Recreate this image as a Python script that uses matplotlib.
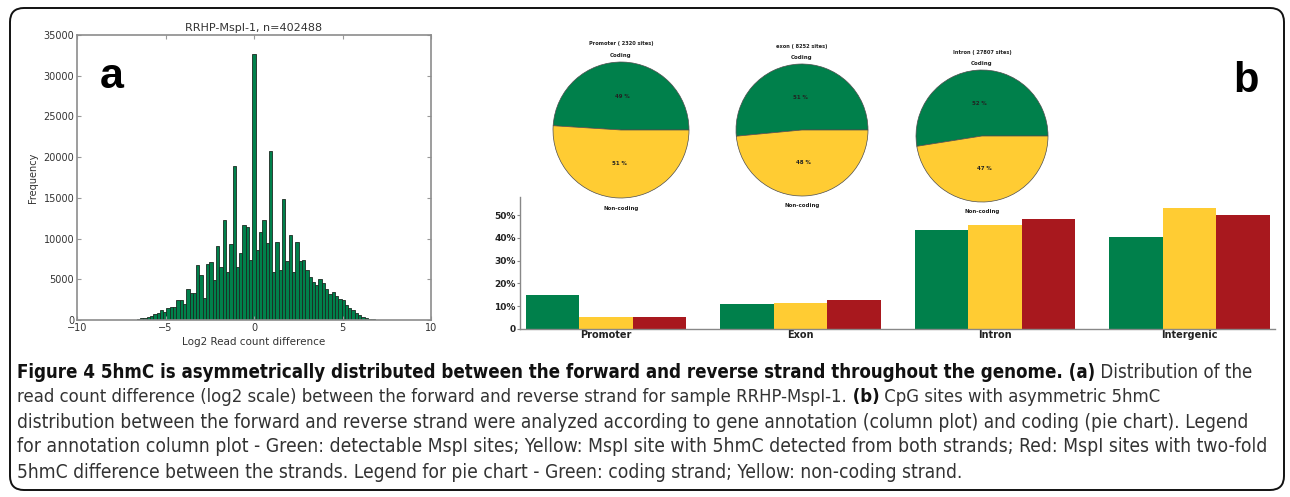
import os
import numpy as np
import matplotlib
matplotlib.use("Agg")
import matplotlib.pyplot as plt
from matplotlib import font_manager
from matplotlib.font_manager import FontProperties
from matplotlib.patches import FancyBboxPatch
from matplotlib.transforms import IdentityTransform

W, H = 1290, 497

# panel a: histogram of log2 read count difference
hist_range = (-7.0, 7.0)
hist_counts = [20, 60, 120, 200, 300, 400, 550, 700, 800, 1200,
               1000, 1500, 1550, 1550, 2500, 2500, 2000, 3800, 3300, 3300,
               6800, 5550, 2750, 6850, 7150, 4900, 9100, 6450, 12300, 5850,
               9350, 18900, 6500, 8200, 11700, 11400, 7400, 32700, 8600, 10800,
               12300, 9400, 20700, 5900, 9600, 6200, 14800, 7300, 10500, 5900,
               9600, 7300, 7400, 6100, 5300, 4700, 4300, 5000, 4500, 3800,
               3200, 3400, 3000, 2600, 2400, 1800, 1500, 1200, 800, 600,
               400, 250, 150, 80, 30]
hist_title = "RRHP-MspI-1, n=402488"

# panel b: pies
pie_titles = ["Promoter ( 2320 sites)", "exon ( 8252 sites)", "Intron ( 27807 sites)"]
coding_pct = [49.0, 51.5, 52.5]
noncoding_pct = [51.0, 48.5, 47.5]

# panel b: column plot
regions = ["Promoter", "Exon", "Intron", "Intergenic"]
detectable = [15.0, 11.1, 43.5, 40.5]
both_strands = [5.1, 11.4, 45.5, 53.0]
two_fold = [5.4, 12.6, 48.5, 50.0]

GREEN = "#00804b"
YELLOW = "#ffcc33"
RED = "#a8181e"

caption = [
    [("Figure 4 5hmC is asymmetrically distributed between the forward and reverse strand throughout the genome. (a)", "bold"),
     (" Distribution of the", "normal")],
    [("read count difference (log2 scale) between the forward and reverse strand for sample RRHP-MspI-1.", "normal"),
     (" (b)", "bold"), (" CpG sites with asymmetric 5hmC", "normal")],
    [("distribution between the forward and reverse strand were analyzed according to gene annotation (column plot) and coding (pie chart). Legend", "normal")],
    [("for annotation column plot - Green: detectable MspI sites; Yellow: MspI site with 5hmC detected from both strands; Red: MspI sites with two-fold", "normal")],
    [("5hmC difference between the strands. Legend for pie chart - Green: coding strand; Yellow: non-coding strand.", "normal")],
]
# right end of each caption line in the reference (px)
caption_ends = [1248, 1163, 1250, 1268, 972]


def pick_condensed():
    prefs = ["liberationsansnarrow", "dejavusanscondensed", "notosans-condensed",
             "opensans_condensed", "opensans-condensed", "robotocondensed"]
    found = []
    for f in font_manager.fontManager.ttflist:
        fn = os.path.basename(f.fname).lower()
        if ("narrow" in fn or "condensed" in fn) and "italic" not in fn and "oblique" not in fn:
            rank = len(prefs)
            for i, p in enumerate(prefs):
                if fn.startswith(p):
                    rank = i
                    break
            found.append((rank, f.name, f.stretch))
    if not found:
        return "DejaVu Sans", "normal"
    found.sort()
    return found[0][1], found[0][2]


COND_FAMILY, COND_STRETCH = pick_condensed()


def cond(weight="normal", size=10):
    return FontProperties(family=COND_FAMILY, stretch=COND_STRETCH, weight=weight, size=size)


def px_axes(fig, x0, y0, x1, y1):
    return fig.add_axes([x0 / W, 1 - y1 / H, (x1 - x0) / W, (y1 - y0) / H])


def text_width(fig, renderer, s, fp):
    t = fig.text(0, 0, s, fontproperties=fp)
    w = t.get_window_extent(renderer).width
    t.remove()
    return w


def main():
    fig = plt.figure(figsize=(W / 100, H / 100), dpi=100)
    renderer = fig.canvas.get_renderer()

    # ---- histogram
    ax = px_axes(fig, 77, 35, 431, 320)
    edges = np.linspace(hist_range[0], hist_range[1], len(hist_counts) + 1)
    centers = (edges[:-1] + edges[1:]) / 2
    ax.hist(centers, bins=edges, weights=hist_counts, color=GREEN,
            edgecolor="#1c2a22", linewidth=0.6)
    ax.set_xlim(-10, 10)
    ax.set_ylim(0, 35000)
    ax.set_xticks([-10, -5, 0, 5, 10])
    ax.set_yticks(range(0, 35001, 5000))
    ax.tick_params(direction="in", top=True, right=True, labelsize=7,
                   length=3, color="#999999", labelcolor="#333333", pad=2)
    for s in ax.spines.values():
        s.set_color("#8c8c8c")
        s.set_linewidth(1.2)
    ax.set_title(hist_title, fontsize=8, color="#333333", pad=3)
    ax.set_ylabel("Frequency", fontsize=7, color="#333333", labelpad=4)
    ax.set_xlabel("Log2 Read count difference", fontsize=7.5, color="#333333", labelpad=3)
    fig.text(100 / W, 1 - 88 / H, "a", fontsize=31, fontweight="bold",
             family="Liberation Sans", va="baseline", ha="left")

    # ---- pies
    small = 10 * 65 / text_width(fig, renderer, pie_titles[0], cond("bold", 10))
    pie_boxes = [(621, 130, 68), (802, 130, 66), (982, 136, 66)]
    for (cx, cy, r), title, c, n in zip(pie_boxes, pie_titles, coding_pct, noncoding_pct):
        pax = px_axes(fig, cx - r, cy - r, cx + r, cy + r)
        wedges, texts, autotexts = pax.pie(
            [c, n], colors=[GREEN, YELLOW], startangle=0, counterclock=True,
            labels=["Coding", "Non-coding"], labeldistance=1.1,
            autopct="%d %%", pctdistance=0.5,
            wedgeprops=dict(edgecolor="#4d4d4d", linewidth=0.5),
            textprops=dict(color="#222222"))
        texts[0].set_position((0, 1.1))
        texts[1].set_position((0, -1.15))
        for t in texts:
            t.set_ha("center")
            t.set_fontproperties(cond("bold", small * 1.08))
        for t in autotexts:
            t.set_fontproperties(cond("bold", small * 1.05))
        pax.text(0, 1.27, title, ha="center", va="center",
                 fontproperties=cond("bold", small), color="#222222")
        pax.set_xlim(-1, 1)
        pax.set_ylim(-1, 1)
        pax.set_axis_off()

    # ---- column plot
    bax = px_axes(fig, 520, 197, 1275, 329)
    bax.patch.set_visible(False)
    x = np.arange(len(regions))
    bw = 0.275
    for i, (vals, col) in enumerate([(detectable, GREEN), (both_strands, YELLOW), (two_fold, RED)]):
        bax.bar(x + i * bw, vals, width=bw, align="edge", color=col, linewidth=0)
    bax.set_xlim(-0.029, 3.852)
    bax.set_ylim(0, 58)
    bax.set_yticks([0, 10, 20, 30, 40, 50])
    bax.set_yticklabels(["0", "10%", "20%", "30%", "40%", "50%"])
    bax.set_xticks(x + 1.5 * bw)
    bax.set_xticklabels(regions)
    for s in ["top", "right"]:
        bax.spines[s].set_visible(False)
    for s in ["left", "bottom"]:
        bax.spines[s].set_color("#888888")
        bax.spines[s].set_linewidth(1.0)
    bax.tick_params(axis="y", length=2, color="#888888", labelsize=6.5, pad=1)
    bax.tick_params(axis="x", length=0, labelsize=7, pad=1)
    for t in bax.get_xticklabels() + bax.get_yticklabels():
        t.set_family("DejaVu Sans")
        t.set_fontweight("bold")
        t.set_color("#222222")
    fig.text(1233 / W, 1 - 92 / H, "b", fontsize=30, fontweight="bold",
             family="Liberation Sans", va="baseline", ha="left")

    # ---- frame
    frame = FancyBboxPatch((10, H - 490), 1274, 482,
                           boxstyle="round,pad=0,rounding_size=14",
                           transform=IdentityTransform(), facecolor="none",
                           edgecolor="#111111", linewidth=1.4)
    fig.add_artist(frame)

    # ---- caption: one size per line so that each line ends where it does
    base_y = [372, 397, 422, 447, 472]
    x0 = 17
    sizes = []
    for line, end in zip(caption, caption_ends):
        w = sum(text_width(fig, renderer, seg, cond(wt, 10)) for seg, wt in line)
        sizes.append(10 * (end - x0) / w)
    common = min(np.median(sizes), max(sizes))
    for line, yy, sz in zip(caption, base_y, sizes):
        sz = min(sz, common * 1.0) if line is caption[-1] else sz
        xx = x0
        for seg, weight in line:
            t = fig.text(xx / W, 1 - yy / H, seg, fontproperties=cond(weight, sz),
                         va="center", ha="left",
                         color="#111111" if weight == "bold" else "#333333")
            xx += t.get_window_extent(renderer).width

    fig.savefig("out.png", dpi=100)


if __name__ == "__main__":
    main()
